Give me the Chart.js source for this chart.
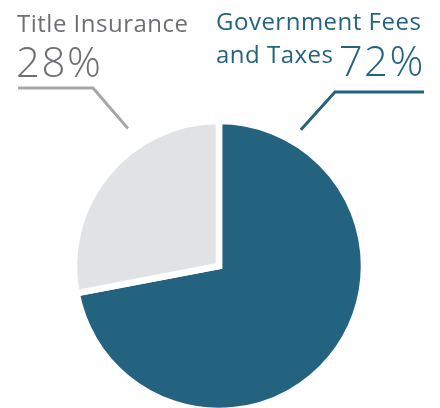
<!DOCTYPE html>
<html>
<head>
<meta charset="utf-8">
<script src="https://cdn.jsdelivr.net/npm/chart.js@4/dist/chart.umd.min.js"></script>
<style>
  body { margin: 0; background: #fff; }
  #wrap { position: relative; width: 440px; height: 408px; overflow: hidden; }
  #pie { position: absolute; left: 0; top: 0; }
  .lbl { position: absolute; font-family: "Open Sans", sans-serif; font-weight: 400; white-space: nowrap; }
  .name { font-size: 24px; line-height: 33px; letter-spacing: 0.5px; }
  .pct { font-size: 42px; line-height: 42px; font-weight: 300; letter-spacing: 1.5px; }
  .gray { color: #6e6f72; }
  .blue { color: #24637f; }
</style>
</head>
<body>
<div id="wrap">
  <canvas id="pie" width="440" height="408"></canvas>
  <div class="lbl name gray" style="left:17px; top:6px;">Title Insurance</div>
  <div class="lbl pct gray" style="left:16px; top:40px;">28%</div>
  <div class="lbl name blue" style="left:216px; top:4px;">Government Fees<br>and Taxes</div>
  <div class="lbl pct blue" style="right:15px; top:39px;">72%</div>
</div>
<script>
const labels = ["Government Fees and Taxes", "Title Insurance"]
const values = [72, 28]
const colors = ["#24637f", "#e1e2e4"]
const lineColors = ["#24637f", "#a6a7a9"]

// leader lines: tip angle (deg, canvas) + gap outside the arc, elbow + end of the flat part
const leaders = [
    { angle: -59, gap: 14, elbow: [335, 92], end: [424, 92] },
    { angle: 236.5, gap: 20, elbow: [93, 88], end: [18, 88] }
]

const leaderPlugin = {
    id: 'leaders',
    afterDatasetsDraw(chart) {
        const ctx = chart.ctx
        const arcs = chart.getDatasetMeta(0).data
        arcs.forEach(function (arc, i) {
            const l = leaders[i]
            const a = l.angle * Math.PI / 180
            const r = arc.outerRadius + l.gap
            ctx.save()
            ctx.strokeStyle = lineColors[i]
            ctx.lineWidth = 3
            ctx.lineJoin = 'miter'
            ctx.beginPath()
            ctx.moveTo(arc.x + Math.cos(a) * r, arc.y + Math.sin(a) * r)
            ctx.lineTo(l.elbow[0], l.elbow[1])
            ctx.lineTo(l.end[0], l.end[1])
            ctx.stroke()
            ctx.restore()
        })
    }
}

var ctxP = document.getElementById("pie").getContext('2d');
var myPieChart = new Chart(ctxP, {
    type: 'pie',
    data: {
        labels: labels,
        datasets: [{
            data: values,
            backgroundColor: colors,
            borderColor: '#ffffff',
            borderWidth: 6.5,
            borderJoinStyle: 'miter',
            hoverOffset: 0,
            clip: false
        }]
    },
    options: {
        responsive: false,
        animation: false,
        events: [],
        radius: 145,
        layout: { padding: { top: 124, right: 2, left: 0, bottom: 0 } },
        plugins: {
            legend: { display: false },
            tooltip: { enabled: false }
        }
    },
    plugins: [leaderPlugin]
});
</script>
</body>
</html>
